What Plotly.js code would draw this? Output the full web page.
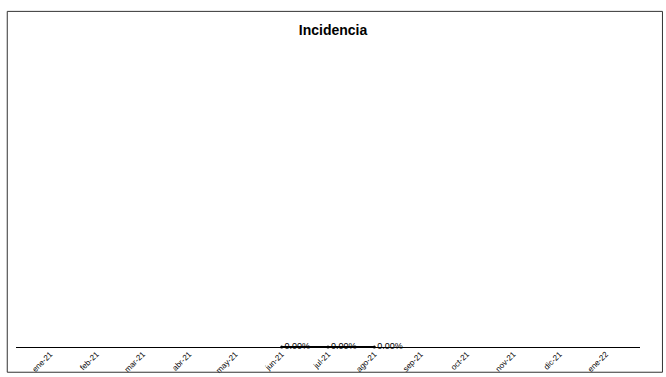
<!DOCTYPE html>
<html>
<head>
<meta charset="utf-8">
<script src="https://cdn.plot.ly/plotly-3.0.1.min.js"></script>
<style>html,body{margin:0;padding:0;background:#fff;}#chart{width:666px;height:377px;}</style>
</head>
<body>
<div id="chart"></div>
<script>
const categories = ["ene-21","feb-21","mar-21","abr-21","may-21","jun-21","jul-21","ago-21","sep-21","oct-21","nov-21","dic-21","ene-22"];
const incidencia = [null,null,null,null,null,0,0,0,null,null,null,null,null];
const labels = incidencia.map(v => v === null ? "" : (v*100).toFixed(2) + "%");

const trace = {
  type: "scatter",
  mode: "lines+markers+text",
  x: categories,
  y: incidencia,
  text: labels,
  textposition: "middle right",
  textfont: {family: "Liberation Sans, Arial", size: 9, color: "#000"},
  line: {color: "#000", width: 2},
  marker: {size: 3, color: "#000"},
  cliponaxis: false,
  hoverinfo: "skip",
  showlegend: false
};

const layout = {
  width: 666, height: 377,
  paper_bgcolor: "#fff", plot_bgcolor: "#fff",
  margin: {l: 16, r: 26, t: 50, b: 30},
  title: {text: "<b>Incidencia</b>", x: 0.5, xanchor: "center", y: 0.92, yanchor: "middle",
          font: {family: "Liberation Sans, Arial", size: 14, color: "#000"}},
  xaxis: {type: "category", showgrid: false, zeroline: false, showline: false,
          ticks: "", tickangle: -45, tickfont: {family: "Liberation Sans, Arial", size: 8, color: "#000"}},
  yaxis: {range: [0, 1], showgrid: false, zeroline: true, zerolinecolor: "#000", zerolinewidth: 1,
          showticklabels: false, showline: false, ticks: ""},
  shapes: [
    {type: "rect", xref: "paper", yref: "paper", x0: -0.014, x1: 1.036, y0: -0.085, y1: 1.13,
     line: {color: "#333", width: 1}, fillcolor: "rgba(0,0,0,0)"}
  ]
};

Plotly.newPlot("chart", [trace], layout, {displayModeBar: false, staticPlot: true});
</script>
</body>
</html>
